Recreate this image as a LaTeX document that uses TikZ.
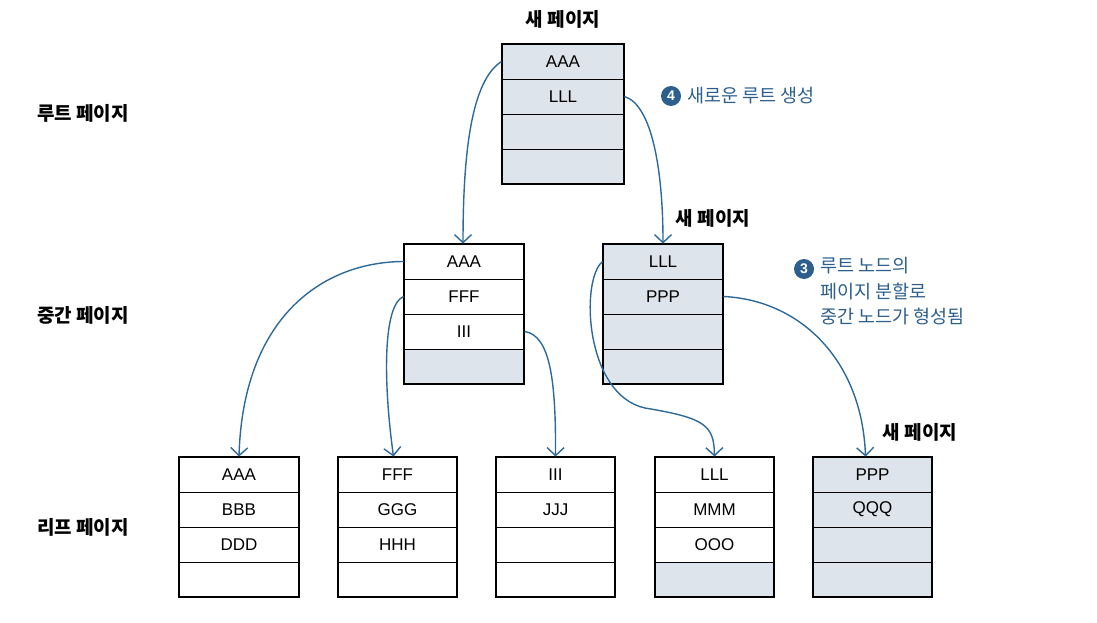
\documentclass[tikz,border=0pt]{standalone}
\usepackage{fontspec}
\setmainfont{Liberation Sans}
\newfontfamily\kr{Noto Sans CJK KR}
\usetikzlibrary{arrows.meta}
\definecolor{pagefill}{HTML}{DDE4EB}
\definecolor{linkblue}{HTML}{2E6A99}
\definecolor{notblue}{HTML}{2D5F8E}
\tikzset{
  rowbox/.style={draw=black, line width=0.9pt, rectangle, inner sep=0pt, minimum height=35pt, font=\fontsize{17}{17}\selectfont},
  rootw/.style={rowbox, minimum width=122pt},
  midw/.style={rowbox, minimum width=120pt},
  leafw/.style={rowbox, minimum width=119pt},
  blue/.style={fill=pagefill},
  outer/.style={draw=black, line width=2pt},
  lvl/.style={font=\kr\bfseries\fontsize{19}{19}\selectfont, anchor=west, inner sep=0pt},
  newp/.style={font=\kr\bfseries\fontsize{19}{19}\selectfont, inner sep=0pt},
  note/.style={font=\kr\fontsize{18.5}{25.5}\selectfont, text=notblue, anchor=west, align=left, inner sep=0pt},
  num/.style={circle, fill=notblue, text=white, inner sep=0pt, minimum size=20pt, font=\bfseries\fontsize{14}{14}\selectfont},
  link/.style={draw=linkblue, line width=1.4pt, -{Straight Barb[length=8pt,width=17pt,line width=1.4pt]}},
}
\begin{document}
\begin{tikzpicture}[x=1pt,y=-1pt]
\useasboundingbox (0,0) rectangle (1097,623);
% level labels
\node[lvl] (lroot) at (37,113) {루트 페이지};
\node[lvl] (lmid) at (37,315) {중간 페이지};
\node[lvl] (lleaf) at (37,527) {리프 페이지};
% root page
\node[rootw,blue] (ra) at (563,61.5) {AAA};
\node[rootw,blue] (rb) at (563,96.5) {LLL};
\node[rootw,blue] (rc) at (563,131.5) {};
\node[rootw,blue] (rd) at (563,166.5) {};
\draw[outer] (ra.north west) rectangle (rd.south east);
\node[newp] (nroot) at (563,19) {새 페이지};
% middle left
\node[midw] (ma) at (464,261.5) {AAA};
\node[midw] (mb) at (464,296.5) {FFF};
\node[midw] (mc) at (464,331.5) {III};
\node[midw,blue] (md) at (464,366.5) {};
\draw[outer] (ma.north west) rectangle (md.south east);
% middle right
\node[midw,blue] (na) at (663,261.5) {LLL};
\node[midw,blue] (nb) at (663,296.5) {PPP};
\node[midw,blue] (nc) at (663,331.5) {};
\node[midw,blue] (nd) at (663,366.5) {};
\draw[outer] (na.north west) rectangle (nd.south east);
\node[newp] (nmid) at (713,218) {새 페이지};
% leaves
\node[leafw] (a1) at (239,474.5) {AAA};
\node[leafw] (a2) at (239,509.5) {BBB};
\node[leafw] (a3) at (239,544.5) {DDD};
\node[leafw] (a4) at (239,579.5) {};
\draw[outer] (a1.north west) rectangle (a4.south east);
\node[leafw] (b1) at (397.5,474.5) {FFF};
\node[leafw] (b2) at (397.5,509.5) {GGG};
\node[leafw] (b3) at (397.5,544.5) {HHH};
\node[leafw] (b4) at (397.5,579.5) {};
\draw[outer] (b1.north west) rectangle (b4.south east);
\node[leafw] (c1) at (555.5,474.5) {III};
\node[leafw] (c2) at (555.5,509.5) {JJJ};
\node[leafw] (c3) at (555.5,544.5) {};
\node[leafw] (c4) at (555.5,579.5) {};
\draw[outer] (c1.north west) rectangle (c4.south east);
\node[leafw] (d1) at (714.5,474.5) {LLL};
\node[leafw] (d2) at (714.5,509.5) {MMM};
\node[leafw] (d3) at (714.5,544.5) {OOO};
\node[leafw,blue] (d4) at (714.5,579.5) {};
\draw[outer] (d1.north west) rectangle (d4.south east);
\node[leafw,blue] (e1) at (872.5,474.5) {PPP};
\node[leafw,blue] (e2) at (872.5,509.5) {QQQ};
\node[leafw,blue] (e3) at (872.5,544.5) {};
\node[leafw,blue] (e4) at (872.5,579.5) {};
\draw[outer] (e1.north west) rectangle (e4.south east);
\node[newp] (nleaf) at (920,432) {새 페이지};
% notes
\node[num] (n4) at (671,96) {4};
\node[note] (t4) at (687,96) {새로운 루트 생성};
\node[num] (n3) at (804,269) {3};
\node[note, anchor=north west] (t3) at (820,257) {루트 노드의\\페이지 분할로\\중간 노드가 형성됨};
% links
\draw[link] (ra.west) .. controls (472,80) and (463,150) .. ([xshift=-1pt]ma.north);
\draw[link] (rb.east) .. controls (652,105) and (663,170) .. (na.north);
\draw[link] (ma.west) .. controls (320,262) and (243,320) .. (a1.north);
\draw[link] (mb.west) .. controls (383,305) and (383,380) .. ([xshift=-4pt]b1.north);
\draw[link] (mc.east) .. controls (550,335) and (556,380) .. (c1.north);
\coordinate (bend) at (645,408);
\draw[link] (na.west) .. controls (580,280) and (585,395) .. (bend) .. controls (705,418) and (714,425) .. (d1.north);
\draw[link] (nb.east) .. controls (800,300) and (862,360) .. ([xshift=-7pt]e1.north);
\end{tikzpicture}
\end{document}
